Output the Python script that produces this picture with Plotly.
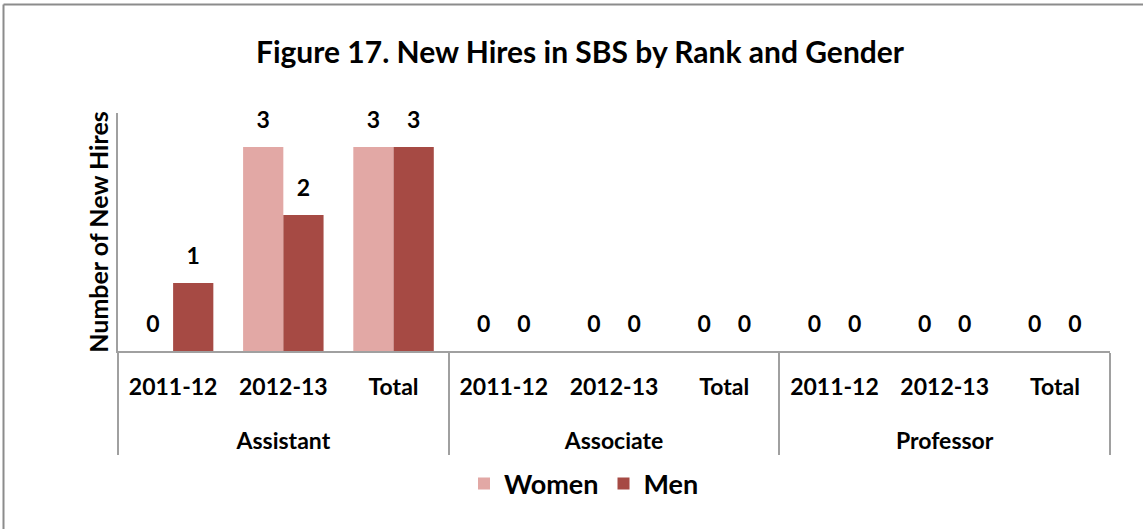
import plotly.graph_objects as go

ranks = ["Assistant", "Assistant", "Assistant",
         "Associate", "Associate", "Associate",
         "Professor", "Professor", "Professor"]
years = ["2011-12", "2012-13", "Total"] * 3
women = [0, 3, 3, 0, 0, 0, 0, 0, 0]
men = [1, 2, 3, 0, 0, 0, 0, 0, 0]

WOMEN_COLOR = "#E2A8A5"
MEN_COLOR = "#A64A44"
FONT = "Lato"

W, H = 1143, 529
L, R, T, B = 118, 33, 113, 178
pw, ph = W - L - R, H - T - B

# label spacing tweaks to mimic the Excel two-level axis layout
pad = "<span style='font-size:30px'> </span>"
rank_labels = ["<br>" + r for r in ranks]
year_labels = [pad + y + pad for y in years]
xcats = [rank_labels, year_labels]

fig = go.Figure()
fig.add_trace(go.Bar(name="Women", x=xcats, y=women,
                     marker=dict(color=WOMEN_COLOR, line=dict(width=0))))
fig.add_trace(go.Bar(name="Men", x=xcats, y=men,
                     marker=dict(color=MEN_COLOR, line=dict(width=0))))
for vals in (women, men):
    fig.add_trace(go.Scatter(x=xcats, y=vals, mode="markers+text",
                             text=[str(v) for v in vals], textposition="top center",
                             marker=dict(size=20, opacity=0),
                             textfont=dict(family=FONT, size=23, color="black", weight="bold"),
                             showlegend=False, hoverinfo="skip", cliponaxis=False))

def px_x(p):
    return (p - L) / pw

def px_y(p):
    return (H - B - p) / ph

fig.update_layout(
    width=W, height=H,
    margin=dict(l=L, r=R, t=T, b=B, autoexpand=False),
    paper_bgcolor="white", plot_bgcolor="white",
    barmode="group", bargap=0.27, bargroupgap=0,
    scattermode="group", scattergap=0.27,
    font=dict(family=FONT, color="black"),
    title=dict(text="<b>Figure 17. New Hires in SBS by Rank and Gender</b>",
               x=580 / W, xanchor="center", y=1 - 52 / H, yanchor="middle",
               xref="container", yref="container",
               font=dict(family=FONT, size=30, color="black")),
    legend=dict(orientation="h", x=584 / W, xref="container", xanchor="center",
                y=1 - 484 / H, yref="container", yanchor="middle",
                font=dict(family=FONT, size=27, color="black", weight="bold"),
                itemwidth=30, traceorder="normal"),
    xaxis=dict(type="multicategory", showline=True, linecolor="#A0A0A0", linewidth=2,
               showgrid=False, ticks="", tickangle=0,
               dividercolor="#A0A0A0", dividerwidth=2,
               ticklabelstandoff=14,
               tickfont=dict(family=FONT, size=23, color="black", weight="bold")),
    yaxis=dict(range=[0, 3.5], showline=True, linecolor="#A0A0A0", linewidth=2,
               showgrid=False, zeroline=False, showticklabels=False, ticks="",
               title=dict(text="<b>Number of New Hires</b>", standoff=0,
                          font=dict(family=FONT, size=25, color="black", weight="bold"))),
    shapes=[
        dict(type="line", xref="paper", yref="paper",
             x0=px_x(3.5), x1=px_x(3.5), y0=px_y(H + 5), y1=px_y(4.5),
             line=dict(color="#8C8C8C", width=2)),
        dict(type="line", xref="paper", yref="paper",
             x0=px_x(3.5), x1=px_x(W + 5), y0=px_y(4.5), y1=px_y(4.5),
             line=dict(color="#8C8C8C", width=2)),
    ],
)

fig.write_html("out.html", config={"displayModeBar": False},
               post_script="document.body.style.margin='0px';")
